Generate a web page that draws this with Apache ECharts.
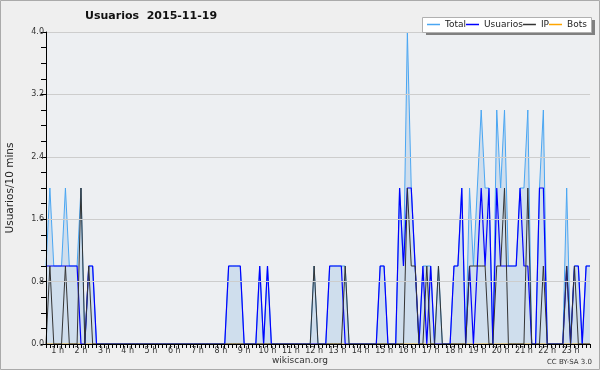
<!DOCTYPE html>
<html><head><meta charset="utf-8">
<script src="https://cdn.jsdelivr.net/npm/echarts@6/dist/echarts.min.js"></script>
<style>html,body{margin:0;padding:0;background:#efefef}#c{width:600px;height:370px}</style>
</head><body><div id="c"></div>
<script>
const chartTitle = 'Usuarios  2015-11-19';
const yAxisName = 'Usuarios/10 mins';
const seriesNames = ['Total', 'Usuarios', 'IP', 'Bots'];
const hourLabels = ['1 h','2 h','3 h','4 h','5 h','6 h','7 h','8 h','9 h','10 h','11 h','12 h','13 h','14 h','15 h','16 h','17 h','18 h','19 h','20 h','21 h','22 h','23 h'];
const yTicks = [0, 0.8, 1.6, 2.4, 3.2, 4.0];
// 10-minute slots from 00:30 to 23:50
const categories = [];
for (let m = 30; m <= 23 * 60 + 50; m += 10) {
  categories.push(String(Math.floor(m / 60)).padStart(2, '0') + ':' + String(m % 60).padStart(2, '0'));
}
const total = [
1,2,1,1,1,2,1,1,1,2,0,1,1,0,
0,0,0,0,0,0,0,0,0,0,0,0,0,0,0,0,0,0,0,0,0,0,0,0,0,0,0,0,0,0,0,0,
0,1,1,1,1,0,0,0,0,1,0,1,
0,0,0,0,0,0,0,0,0,0,0,1,0,0,0,1,1,1,1,1,
0,0,0,0,0,0,0,0,1,1,0,0,0,2,1,4,2,1,0,1,1,1,0,1,0,0,0,
1,1,2,0,2,1,2,3,2,2,0,3,2,3,1,1,1,2,2,3,0,0,2,3,
0,0,0,0,0,2,0,1,1,0,1,1];
const usuarios = [
1,1,1,1,1,1,1,1,1,0,0,1,1,0,
0,0,0,0,0,0,0,0,0,0,0,0,0,0,0,0,0,0,0,0,0,0,0,0,0,0,0,0,0,0,0,0,
0,1,1,1,1,0,0,0,0,1,0,1,
0,0,0,0,0,0,0,0,0,0,0,0,0,0,0,1,1,1,1,0,
0,0,0,0,0,0,0,0,1,1,0,0,0,2,1,2,2,1,0,1,0,1,0,0,0,0,0,
1,1,2,0,1,0,1,2,1,2,0,2,1,1,1,1,1,2,1,1,0,0,2,2,
0,0,0,0,0,1,0,1,1,0,1,1];
const ip = [
0,1,0,0,0,1,0,0,0,2,0,1,0,0,
0,0,0,0,0,0,0,0,0,0,0,0,0,0,0,0,0,0,0,0,0,0,0,0,0,0,0,0,0,0,0,0,
0,0,0,0,0,0,0,0,0,0,0,0,
0,0,0,0,0,0,0,0,0,0,0,1,0,0,0,0,0,0,0,1,
0,0,0,0,0,0,0,0,0,0,0,0,0,0,0,2,1,1,0,0,1,0,0,1,0,0,0,
0,0,0,0,1,1,1,1,1,0,0,1,1,2,0,0,0,0,0,2,0,0,0,1,
0,0,0,0,0,1,0,1,0,0,0,0];
const bots = [
0,0,0,0,0,0,0,0,0,0,0,0,0,0,
0,0,0,0,0,0,0,0,0,0,0,0,0,0,0,0,0,0,0,0,0,0,0,0,0,0,0,0,0,0,0,0,
0,0,0,0,0,0,0,0,0,0,0,0,
0,0,0,0,0,0,0,0,0,0,0,0,0,0,0,0,0,0,0,0,
0,0,0,0,0,0,0,0,0,0,0,0,0,0,0,0,0,0,0,0,0,0,0,0,0,0,0,
0,0,0,0,0,0,0,0,0,0,0,0,0,0,0,0,0,0,0,0,0,0,0,0,
0,0,0,0,0,0,0,0,0,0,0,0];
const seriesColors = ['#4aa6f2', '#0000ff', '#333333', '#ffa500'];

const chart = echarts.init(document.getElementById('c'), null, {renderer: 'canvas'});
const FONT = '"DejaVu Sans", sans-serif';
const lineSeries = (name, data, color, width, z, extra) => Object.assign({
  name, type: 'line', data, symbol: 'none', showSymbol: false, z, animation: false,
  lineStyle: {color, width}, itemStyle: {color}
}, extra || {});

chart.setOption({
  backgroundColor: '#efefef',
  animation: false,
  grid: {left: 46, right: 10, top: 32, bottom: 26, show: true, backgroundColor: '#edeff2', borderWidth: 0,
         outerBoundsMode: 'none', containLabel: false},
  legend: {
    left: 427, top: 20, padding: 0, itemGap: 0, itemWidth: 13, itemHeight: 1.5,
    icon: 'rect',
    textStyle: {fontFamily: FONT, fontSize: 9, color: '#222'},
    data: seriesNames, z: 20
  },
  xAxis: {
    type: 'category', boundaryGap: false, data: categories, z: 10,
    axisLine: {lineStyle: {color: '#000', width: 1}},
    axisTick: {show: true, interval: 0, length: 4, lineStyle: {color: '#000'}},
    axisLabel: {
      interval: (i, v) => v.endsWith(':00'),
      formatter: (v) => hourLabels[parseInt(v, 10) - 1],
      fontFamily: FONT, fontSize: 8, color: '#333', margin: 3
    },
    splitLine: {show: false}
  },
  yAxis: {
    type: 'value', min: yTicks[0], max: yTicks[yTicks.length - 1], interval: yTicks[1] - yTicks[0], z: 10,
    name: yAxisName, nameLocation: 'middle', nameGap: 30,
    nameTextStyle: {fontFamily: FONT, fontSize: 10.5, color: '#222'},
    axisLine: {show: true, lineStyle: {color: '#000', width: 1}},
    axisTick: {show: true, length: 5, lineStyle: {color: '#000'}},
    minorTick: {show: true, splitNumber: 4, length: 5, lineStyle: {color: '#000'}},
    axisLabel: {formatter: (v) => v.toFixed(1), fontFamily: FONT, fontSize: 8, color: '#333', margin: 2},
    splitLine: {show: true, lineStyle: {color: '#cdcdcd', width: 1}}
  },
  series: [
    lineSeries(seriesNames[0], total, seriesColors[0], 1, 2, {areaStyle: {color: 'rgba(80,150,220,0.27)'}}),
    lineSeries(seriesNames[1], usuarios, seriesColors[1], 1.2, 3),
    lineSeries(seriesNames[2], ip, seriesColors[2], 1, 4),
    lineSeries(seriesNames[3], bots, seriesColors[3], 1, 1)
  ],
  graphic: [
    {type: 'rect', shape: {x: 0.5, y: 0.5, width: 599, height: 369}, style: {fill: 'none', stroke: '#aaaaaa', lineWidth: 1}, z: 100, silent: true},
    {type: 'rect', shape: {x: 426, y: 20, width: 169, height: 15}, style: {fill: '#808080'}, z: 15, silent: true},
    {type: 'rect', shape: {x: 422.5, y: 17.5, width: 169, height: 15}, style: {fill: '#ffffff', stroke: '#b0b0b0', lineWidth: 1}, z: 16, silent: true},
    {type: 'text', style: {text: chartTitle, x: 85, y: 16, verticalAlign: 'middle', font: 'bold 11px "DejaVu Sans", sans-serif', fill: '#111'}, z: 20},
    {type: 'text', style: {text: 'wikiscan.org', x: 300, y: 361, align: 'center', verticalAlign: 'middle', font: '9px "DejaVu Sans", sans-serif', fill: '#333'}, z: 20},
    {type: 'text', style: {text: 'CC BY-SA 3.0', x: 592, y: 362, align: 'right', verticalAlign: 'middle', font: '7px "DejaVu Sans", sans-serif', fill: '#333'}, z: 20}
  ]
});
</script></body></html>
